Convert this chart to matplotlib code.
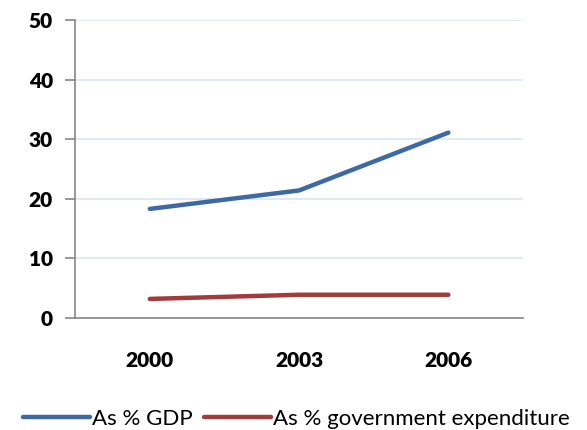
import matplotlib.pyplot as plt

years = ["2000", "2003", "2006"]
pct_gdp = [18.3, 21.4, 31.1]
pct_gov = [3.2, 3.9, 3.9]

plt.rcParams['font.family'] = ['Lato', 'DejaVu Sans']

fig = plt.figure(figsize=(5.87, 4.30), dpi=100)
ax = fig.add_axes([0.128, 0.2605, 0.763, 0.693])

x = range(len(years))
ax.plot(x, pct_gdp, color="#3d6aa3", lw=3.2, solid_capstyle="round", label="As % GDP")
ax.plot(x, pct_gov, color="#a33b3b", lw=3.2, solid_capstyle="round", label="As % government expenditure")

ax.set_xlim(-0.5, 2.5)
ax.set_ylim(0, 50)
ax.set_yticks(range(0, 51, 10))
ax.set_xticks(list(x))
ax.set_xticklabels(years)

ax.grid(axis="y", color="#dce6f2", lw=1.2)
ax.set_axisbelow(True)
for s in ["top", "right"]:
    ax.spines[s].set_visible(False)
for s in ["left", "bottom"]:
    ax.spines[s].set_color("#868686")
    ax.spines[s].set_linewidth(1.2)

ax.tick_params(axis="y", length=7, color="#868686", width=1.2, labelsize=15, pad=9)
ax.tick_params(axis="x", length=0, labelsize=15, pad=24)
for lbl in ax.get_xticklabels() + ax.get_yticklabels():
    lbl.set_fontweight("heavy")

fig.legend(loc="center", bbox_to_anchor=(0.505, 0.025), ncol=2, frameon=False,
           fontsize=16, handlelength=3.0, handletextpad=0.1, columnspacing=0.5)

fig.savefig("out.png", dpi=100)
